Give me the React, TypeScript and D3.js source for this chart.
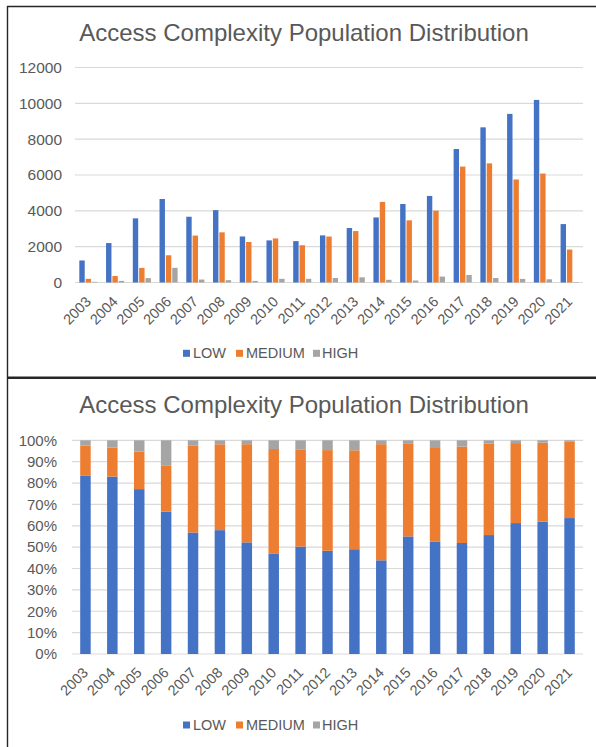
import React from "react";
import * as d3 from "d3";

// Vulnerability counts by access complexity, per year
const years = ["2003","2004","2005","2006","2007","2008","2009","2010","2011","2012","2013","2014","2015","2016","2017","2018","2019","2020","2021"];
const low = [1230, 2200, 3580, 4660, 3670, 4040, 2570, 2350, 2310, 2630, 3040, 3630, 4380, 4830, 7450, 8660, 9410, 10190, 3260];
const medium = [205, 360, 815, 1520, 2620, 2800, 2260, 2460, 2080, 2565, 2870, 4500, 3470, 4010, 6470, 6650, 5750, 6080, 1840];
const high = [37, 90, 245, 820, 165, 130, 90, 205, 205, 250, 290, 150, 110, 330, 420, 250, 200, 180, 25];

const seriesNames = ["LOW", "MEDIUM", "HIGH"];
const seriesColors = ["#4472C4", "#ED7D31", "#A5A5A5"];
const countTicks = [0, 2000, 4000, 6000, 8000, 10000, 12000];
const shareTicks = [0, 0.1, 0.2, 0.3, 0.4, 0.5, 0.6, 0.7, 0.8, 0.9, 1];

const title = "Access Complexity Population Distribution";
const FONT = "'Liberation Sans', Arial, sans-serif";
const TEXT = "#595959";
const GRID = "#D9D9D9";

type Row = { year: string; LOW: number; MEDIUM: number; HIGH: number };
const rows: Row[] = years.map((y, i) => ({ year: y, LOW: low[i], MEDIUM: medium[i], HIGH: high[i] }));

function Legend({ y }: { y: number }) {
  const items = [
    { x: 183, tx: 193 },
    { x: 236, tx: 246 },
    { x: 313, tx: 322 },
  ];
  return (
    <g>
      {seriesNames.map((n, i) => (
        <g key={n}>
          <rect x={items[i].x} y={y - 8.5} width={7} height={7} fill={seriesColors[i]} />
          <text x={items[i].tx} y={y} fontSize={14.5} fill={TEXT} fontFamily={FONT}>{n}</text>
        </g>
      ))}
    </g>
  );
}

function XLabels({ x, y }: { x: (s: string) => number; y: number }) {
  return (
    <g>
      {years.map((yr) => (
        <text
          key={yr}
          transform={`translate(${x(yr)},${y}) rotate(-45)`}
          textAnchor="end"
          dy="0.35em"
          fontSize={14.5}
          fill={TEXT}
          fontFamily={FONT}
        >
          {yr}
        </text>
      ))}
    </g>
  );
}

function ClusteredChart() {
  const left = 75, right = 583;
  const x0 = d3.scaleBand<string>().domain(years).range([left, right]).paddingInner(0.323).paddingOuter(0.1615);
  const x1 = d3.scaleBand<string>().domain(seriesNames).range([0, x0.bandwidth()]).paddingInner(0.15);
  const y = d3.scaleLinear().domain([0, 12000]).range([282.5, 67.5]);
  const center = (s: string) => (x0(s) as number) + x0.bandwidth() / 2;
  return (
    <g>
      <text x={304} y={40.5} textAnchor="middle" fontSize={24} fill={TEXT} fontFamily={FONT}>{title}</text>
      {countTicks.map((t) => (
        <g key={t}>
          <line x1={left} x2={right} y1={y(t)} y2={y(t)} stroke={GRID} strokeWidth={1.2} />
          <text x={62} y={y(t)} dy="0.35em" textAnchor="end" fontSize={15.5} fill={TEXT} fontFamily={FONT}>{t}</text>
        </g>
      ))}
      {rows.map((r) => (
        <g key={r.year} transform={`translate(${x0(r.year)},0)`}>
          {seriesNames.map((s, i) => {
            const v = r[s as keyof Row] as number;
            return (
              <rect key={s} x={x1(s)} y={y(v)} width={x1.bandwidth()} height={y(0) - y(v)} fill={seriesColors[i]} />
            );
          })}
        </g>
      ))}
      <XLabels x={center} y={299} />
      <Legend y={358.3} />
    </g>
  );
}

function StackedPercentChart() {
  const left = 72, right = 583;
  const x = d3.scaleBand<string>().domain(years).range([left, right]).paddingInner(0.61).paddingOuter(0.305);
  const y = d3.scaleLinear().domain([0, 1]).range([654, 440.3]);
  const stack = d3.stack<Row>().keys(seriesNames).offset(d3.stackOffsetExpand);
  const layers = stack(rows);
  const center = (s: string) => (x(s) as number) + x.bandwidth() / 2;
  const fmt = d3.format(".0%");
  return (
    <g>
      <text x={304} y={413} textAnchor="middle" fontSize={24} fill={TEXT} fontFamily={FONT}>{title}</text>
      {shareTicks.map((t) => (
        <g key={t}>
          <line x1={left} x2={right} y1={y(t)} y2={y(t)} stroke={GRID} strokeWidth={1.2} />
          <text x={57} y={y(t)} dy="0.35em" textAnchor="end" fontSize={15} fill={TEXT} fontFamily={FONT}>{fmt(t)}</text>
        </g>
      ))}
      {layers.map((layer, i) => (
        <g key={layer.key} fill={seriesColors[i]}>
          {layer.map((d) => (
            <rect key={d.data.year} x={x(d.data.year)} y={y(d[1])} width={x.bandwidth()} height={y(d[0]) - y(d[1])} />
          ))}
        </g>
      ))}
      <XLabels x={center} y={670} />
      <Legend y={730} />
    </g>
  );
}

export default function App() {
  return (
    <svg
      width={596}
      height={747}
      style={{ position: "absolute", left: 0, top: 0, background: "#fff" }}
    >
      <rect x={0} y={0} width={596} height={747} fill="#fff" />
      <ClusteredChart />
      <StackedPercentChart />
      {/* panel frames */}
      <line x1={7} x2={596} y1={6.5} y2={6.5} stroke="#262626" strokeWidth={1.4} />
      <line x1={7.5} x2={7.5} y1={6} y2={747} stroke="#262626" strokeWidth={1.4} />
      <line x1={7} x2={596} y1={377.8} y2={377.8} stroke="#262626" strokeWidth={2.4} />
    </svg>
  );
}
